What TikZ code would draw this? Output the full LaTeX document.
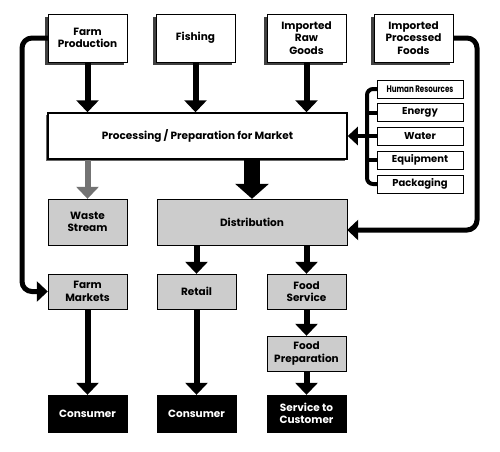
\documentclass[tikz,border=0pt]{standalone}
\usepackage{fontspec}
\setmainfont{Poppins}
\newfontfamily\narrowfont{Poppins}[FakeStretch=0.75]
\usetikzlibrary{arrows.meta,shadows}

\tikzset{
  box/.style={draw, thin, align=center, font=\bfseries\fontsize{10.5}{12.5}\selectfont,
    inner sep=1pt},
  topbox/.style={box, fill=white, minimum width=79pt, minimum height=48pt,
    drop shadow={shadow xshift=-3pt, shadow yshift=-3pt, fill=black!75, opacity=1}},
  graybox/.style={box, fill=black!20, minimum width=79pt},
  blackbox/.style={box, fill=black, text=white, minimum width=79pt, minimum height=37pt},
  resbox/.style={draw, fill=white, align=center, minimum width=86pt, minimum height=18pt,
    inner sep=0pt, font=\bfseries\fontsize{10}{11}\selectfont},
  flow/.style={line width=6pt, -{Triangle[width=22pt,length=12pt]}},
  bigflow/.style={line width=16pt, -{Triangle[width=33pt,length=15pt]}},
  wasteflow/.style={flow, draw=black!55},
  loopline/.style={line width=5pt, rounded corners=10pt, -{Triangle[width=20pt,length=11pt]}},
  bracket/.style={line width=4pt, rounded corners=6pt}
}

\begin{document}
\begin{tikzpicture}[x=1pt, y=-1pt]
  \useasboundingbox (0,0) rectangle (500,451);

  % sources
  \node[topbox] (farm) at (87.5,38) {Farm\\Production};
  \node[topbox] (fish) at (195.5,38) {Fishing};
  \node[topbox] (raw) at (306.5,38) {Imported\\Raw\\Goods};
  \node[topbox] (imp) at (413.5,38) {Imported\\Processed\\Foods};

  % processing and its inputs
  \node[box, fill=white, line width=1.5pt, minimum width=299pt, minimum height=46pt,
    drop shadow={shadow xshift=-2pt, shadow yshift=-2pt, fill=black!60, opacity=1}]
    (proc) at (197.5,136) {Processing / Preparation for Market};
  \node[resbox, font=\bfseries\narrowfont\fontsize{9.5}{10}\selectfont] (hr) at (420,89) {Human Resources};
  \node[resbox] (energy) at (420,112.5) {Energy};
  \node[resbox] (water) at (420,136) {Water};
  \node[resbox] (equip) at (420,160) {Equipment};
  \node[resbox] (pack) at (420,184) {Packaging};
  \coordinate (bus) at (367,136);

  % second row
  \node[graybox, minimum height=46pt] (waste) at (87.5,222) {Waste\\Stream};
  \node[graybox, minimum width=190pt, minimum height=46pt] (dist) at (252,222) {Distribution};

  % outlets
  \node[graybox, minimum height=35pt] (fm) at (87.5,291.5) {Farm\\Markets};
  \node[graybox, minimum height=35pt] (retail) at (196.5,291.5) {Retail};
  \node[graybox, minimum height=35pt] (fs) at (306.5,291.5) {Food\\Service};
  \node[graybox, minimum height=35pt] (prep) at (306.5,353.5) {Food\\Preparation};

  % end users
  \node[blackbox] (cons1) at (87.5,413.5) {Consumer};
  \node[blackbox] (cons2) at (196.5,413.5) {Consumer};
  \node[blackbox] (cust) at (306.5,413.5) {Service to\\Customer};

  % flows
  \draw[flow] (farm.south) -- (farm.south |- proc.north);
  \draw[flow] (fish.south) -- (fish.south |- proc.north);
  \draw[flow] (raw.south) -- (raw.south |- proc.north);
  \draw[wasteflow] (waste.north |- proc.south) -- (waste.north);
  \draw[bigflow] (dist.north |- proc.south) -- (dist.north);
  \draw[flow] (retail.north |- dist.south) -- (retail.north);
  \draw[flow] (fs.north |- dist.south) -- (fs.north);
  \draw[flow] (fs.south) -- (prep.north);
  \draw[flow] (prep.south) -- (cust.north);
  \draw[flow] (fm.south) -- (cons1.north);
  \draw[flow] (retail.south) -- (cons2.north);

  % resource bracket
  \draw[bracket] (hr.west) -| (bus) |- (pack.west);
  \foreach \r in {energy,water,equip}
    \draw[line width=4pt] (\r.west) -- (\r.west -| bus);
  \draw[flow, line width=4pt, -{Triangle[width=18pt,length=10pt]}] (bus) -- (proc.east);

  % bypass loops
  \coordinate (lcorner) at (22,291.5);
  \coordinate (rcorner) at (477,230);
  \draw[loopline] (farm.west) -| (lcorner) -- (fm.west);
  \draw[loopline] (imp.east) -| (rcorner) -- (dist.east |- rcorner);
\end{tikzpicture}
\end{document}
